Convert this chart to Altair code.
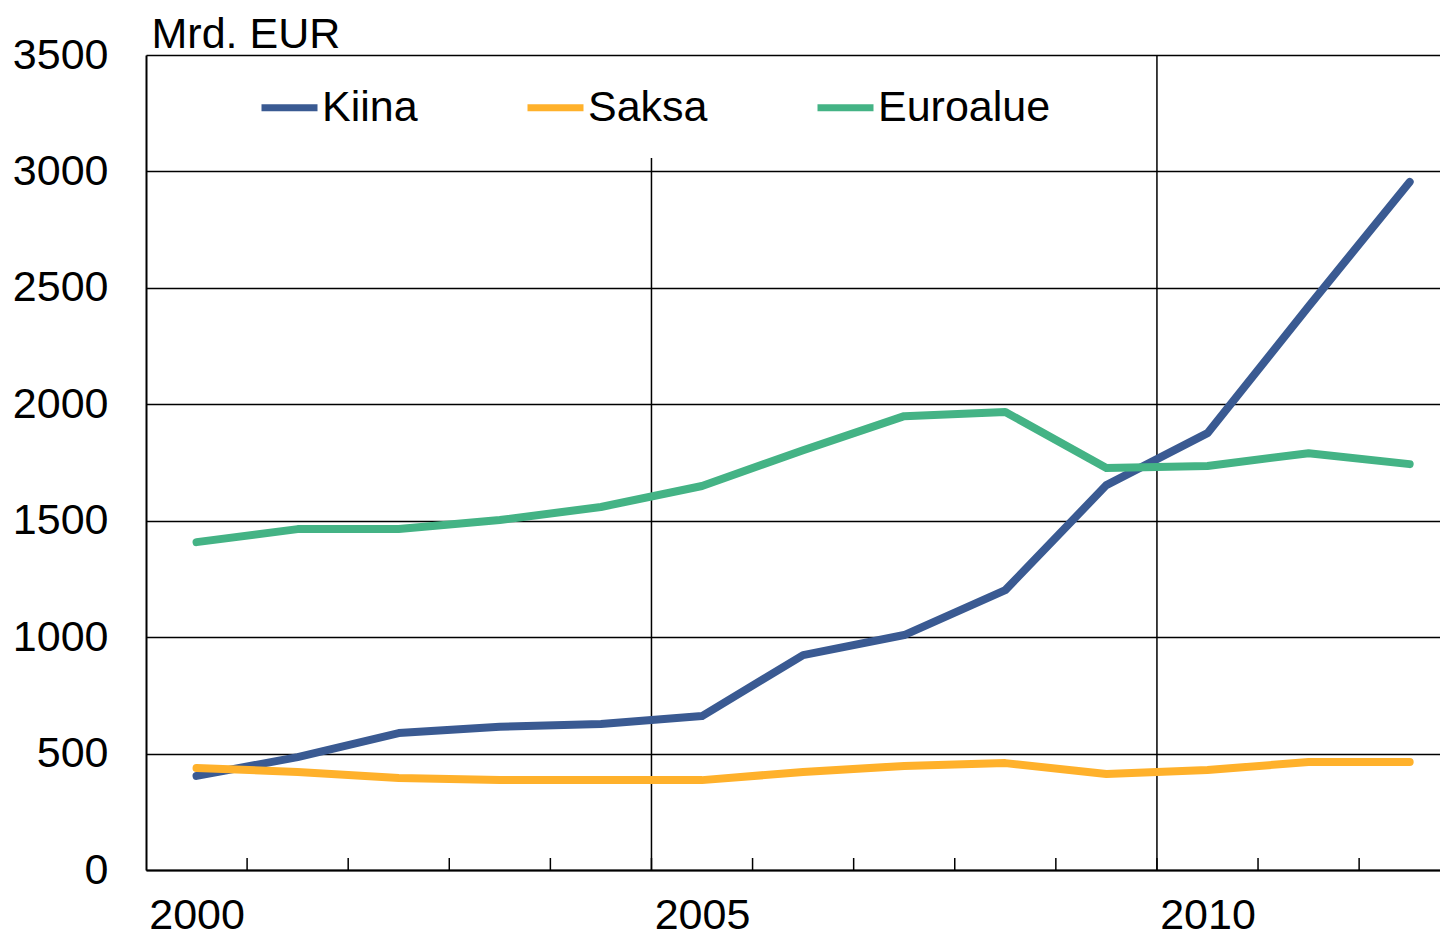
import altair as alt
import pandas as pd

years = list(range(2000, 2013))
kiina = [404, 485, 588, 615, 627, 661, 923, 1009, 1202, 1653, 1876, 2420, 2955]
saksa = [438, 421, 395, 386, 386, 386, 421, 447, 459, 412, 429, 464, 464]
euroalue = [1408, 1464, 1464, 1503, 1559, 1649, 1803, 1949, 1967, 1726, 1735, 1790, 1743]
series_names = ["Kiina", "Saksa", "Euroalue"]
series_colors = ["#3A5A92", "#FFB12B", "#44B385"]
y_ticks = [0, 500, 1000, 1500, 2000, 2500, 3000, 3500]
x_label_pos = [2000.5, 2005.5, 2010.5]
grid_years = [2005, 2010]
tick_years = list(range(2001, 2013))
unit_label = "Mrd. EUR"

FONT = "Liberation Sans"
FS = 43
W, H = 1294, 815

rows = []
for name, vals in zip(series_names, [kiina, saksa, euroalue]):
    for yr, v in zip(years, vals):
        rows.append({"year": yr, "value": v, "series": name})
df = pd.DataFrame(rows)

x_scale = alt.Scale(domain=[2000, 2012.8], nice=False, zero=False)
y_scale = alt.Scale(domain=[0, 3500], nice=False)

x_axis = alt.Axis(
    values=x_label_pos,
    labelExpr="format(floor(datum.value), 'd')",
    ticks=False,
    grid=False,
    domain=True,
    domainColor="black",
    domainWidth=2,
    labelFontSize=FS,
    labelFont=FONT,
    labelColor="black",
    labelBaseline="alphabetic",
    labelPadding=58,
    labelFlush=False,
    labelOverlap=False,
    title=None,
)

# vertical gridline at 2005 is hidden behind the legend box in the original
grid_2005 = alt.Chart(pd.DataFrame({"xpos": grid_years[:1]})).mark_rule(
    color="black", strokeWidth=1.5
).encode(
    x=alt.X("xpos:Q", scale=x_scale, axis=x_axis),
    y=alt.value(103),
    y2=alt.value(H),
)
grid_2010 = alt.Chart(pd.DataFrame({"xpos": grid_years[1:]})).mark_rule(
    color="black", strokeWidth=1.5
).encode(x=alt.X("xpos:Q", scale=x_scale, axis=x_axis))

ticks = alt.Chart(pd.DataFrame({"xpos": tick_years})).mark_rule(
    color="black", strokeWidth=1.5
).encode(
    x=alt.X("xpos:Q", scale=x_scale, axis=x_axis),
    y=alt.value(H - 12),
    y2=alt.value(H),
)

lines = alt.Chart(df).transform_calculate(xpos="datum.year + 0.5").mark_line(
    strokeWidth=8, strokeCap="round", strokeJoin="round"
).encode(
    x=alt.X("xpos:Q", scale=x_scale, axis=x_axis),
    y=alt.Y(
        "value:Q",
        scale=y_scale,
        axis=alt.Axis(
            values=y_ticks,
            format="d",
            grid=True,
            gridColor="black",
            gridWidth=1.5,
            gridOpacity=1,
            ticks=False,
            domain=True,
            domainColor="black",
            domainWidth=2,
            labelFontSize=FS,
            labelFont=FONT,
            labelColor="black",
            labelPadding=38,
            labelFlush=False,
            labelOverlap=False,
            title=unit_label,
            titleAngle=0,
            titleX=5,
            titleY=-8,
            titleAlign="left",
            titleBaseline="alphabetic",
            titleFontSize=FS,
            titleFont=FONT,
            titleFontWeight="normal",
            titleColor="black",
        ),
    ),
    color=alt.Color(
        "series:N",
        scale=alt.Scale(domain=series_names, range=series_colors),
        legend=alt.Legend(
            title=None,
            orient="none",
            legendX=89,
            legendY=-2,
            direction="horizontal",
            symbolType="stroke",
            symbolSize=3136,
            symbolStrokeWidth=7,
            labelFontSize=FS,
            labelFont=FONT,
            labelColor="black",
            labelOffset=1,
            columnPadding=95,
            padding=23,
            labelLimit=0,
        ),
    ),
)

chart = alt.layer(grid_2005, grid_2010, ticks, lines).properties(
    width=W,
    height=H,
    autosize="none",
    padding={"left": 138, "top": 47, "right": 0, "bottom": 68},
).configure_view(stroke=None).configure(background="white")

chart.save("out.html", embed_options={"renderer": "svg", "actions": False})
